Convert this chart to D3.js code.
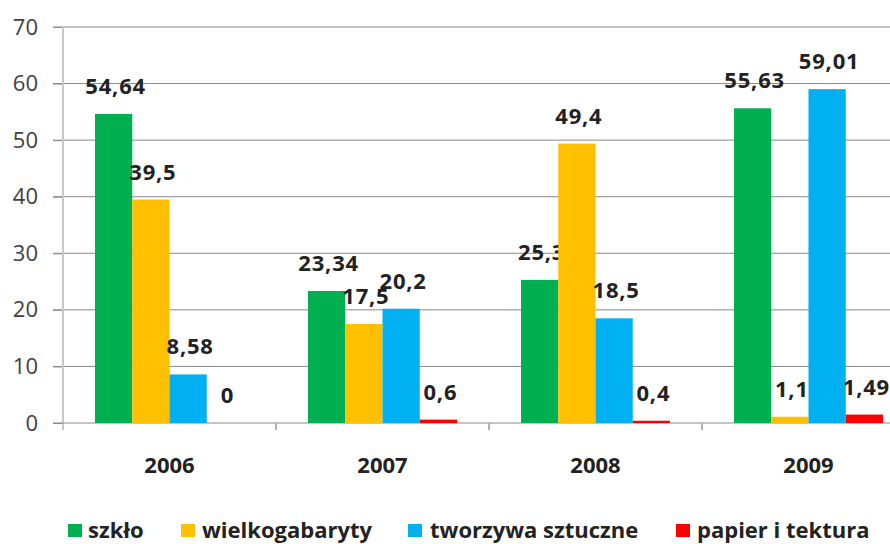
<!DOCTYPE html>
<html>
<head>
<meta charset="utf-8">
<style>
  body { margin: 0; background: #fff; }
  svg text { font-family: "Open Sans", "Noto Sans", sans-serif; }
</style>
</head>
<body>
<svg id="chart" width="890" height="544"></svg>
<script src="https://cdnjs.cloudflare.com/ajax/libs/d3/7.8.5/d3.min.js"></script>
<script>
const years = ["2006", "2007", "2008", "2009"];
const seriesNames = ["szkło", "wielkogabaryty", "tworzywa sztuczne", "papier i tektura"];
const seriesColors = ["#00B050", "#FFC000", "#00B0F0", "#FF0000"];
const szklo = [54.64, 23.34, 25.3, 55.63];
const wielkogabaryty = [39.5, 17.5, 49.4, 1.1];
const tworzywa = [8.58, 20.2, 18.5, 59.01];
const papier = [0, 0.6, 0.4, 1.49];
const yTicks = [0, 10, 20, 30, 40, 50, 60, 70];

const series = [szklo, wielkogabaryty, tworzywa, papier];
const svg = d3.select("#chart");
const width = 890;

// plot runs off the right edge like the source image
const x0 = d3.scaleBand().domain(years).range([63, 915]);
const x1 = d3.scaleBand().domain(d3.range(4)).range([32, x0.bandwidth() - 32]);
const y = d3.scaleLinear().domain([0, 70]).range([423, 27]);

// gridlines
svg.append("g").selectAll("line").data(yTicks.filter(d => d > 0)).enter().append("line")
  .attr("x1", 53).attr("x2", width)
  .attr("y1", d => y(d)).attr("y2", d => y(d))
  .attr("stroke", "#8a8a8a").attr("stroke-width", 1);

// y axis
const yAxis = svg.append("g").attr("transform", "translate(63,0)")
  .call(d3.axisLeft(y).tickValues(yTicks).tickSize(10).tickPadding(15));
yAxis.select(".domain").remove();
yAxis.selectAll(".tick line").attr("stroke", "#8a8a8a");
yAxis.selectAll(".tick text").attr("font-size", 22).attr("fill", "#404040")
  .attr("font-family", "'Open Sans', sans-serif");
svg.append("line").attr("x1", 63).attr("x2", 63).attr("y1", y(70)).attr("y2", 430)
  .attr("stroke", "#c8c8c8").attr("stroke-width", 2);

// x axis
svg.append("line").attr("x1", 53).attr("x2", width).attr("y1", y(0)).attr("y2", y(0))
  .attr("stroke", "#8a8a8a");
svg.append("g").selectAll("line").data(years.slice(1)).enter().append("line")
  .attr("x1", d => x0(d)).attr("x2", d => x0(d))
  .attr("y1", y(0)).attr("y2", 430)
  .attr("stroke", "#b0b0b0").attr("stroke-width", 2);
svg.append("g").selectAll("text").data(years).enter().append("text")
  .attr("x", d => x0(d) + x0.bandwidth() / 2).attr("y", 473)
  .attr("text-anchor", "middle").attr("font-size", 22).attr("font-weight", "bold")
  .attr("fill", "#222").text(d => d);

// bars
const fmt = v => String(v).replace(".", ",");
series.forEach((vals, si) => {
  const g = svg.append("g");
  g.selectAll("rect").data(vals).enter().append("rect")
    .attr("x", (d, i) => x0(years[i]) + x1(si))
    .attr("width", x1.bandwidth())
    .attr("y", d => y(d))
    .attr("height", d => y(0) - y(d))
    .attr("fill", seriesColors[si]);
  g.selectAll("text").data(vals).enter().append("text")
    .attr("x", (d, i) => x0(years[i]) + x1(si) + x1.bandwidth() / 2 + 2)
    .attr("y", d => y(d) - 20)
    .attr("text-anchor", "middle").attr("font-size", 22).attr("font-weight", "bold")
    .attr("letter-spacing", 0.8)
    .attr("fill", "#222").text(d => fmt(d));
});

// legend
const legendX = [68, 181, 408, 676];
const legendTextX = [88, 202, 430, 697];
const lg = svg.append("g").selectAll("g").data(seriesNames).enter().append("g")
  .attr("transform", (d, i) => `translate(${legendX[i]},0)`);
lg.append("rect").attr("x", 0).attr("y", 524).attr("width", 14).attr("height", 13)
  .attr("fill", (d, i) => seriesColors[i]);
lg.append("text").attr("x", (d, i) => legendTextX[i] - legendX[i]).attr("y", 538)
  .attr("font-size", 22).attr("font-weight", "bold").attr("fill", "#222").text(d => d);
</script>
</body>
</html>
